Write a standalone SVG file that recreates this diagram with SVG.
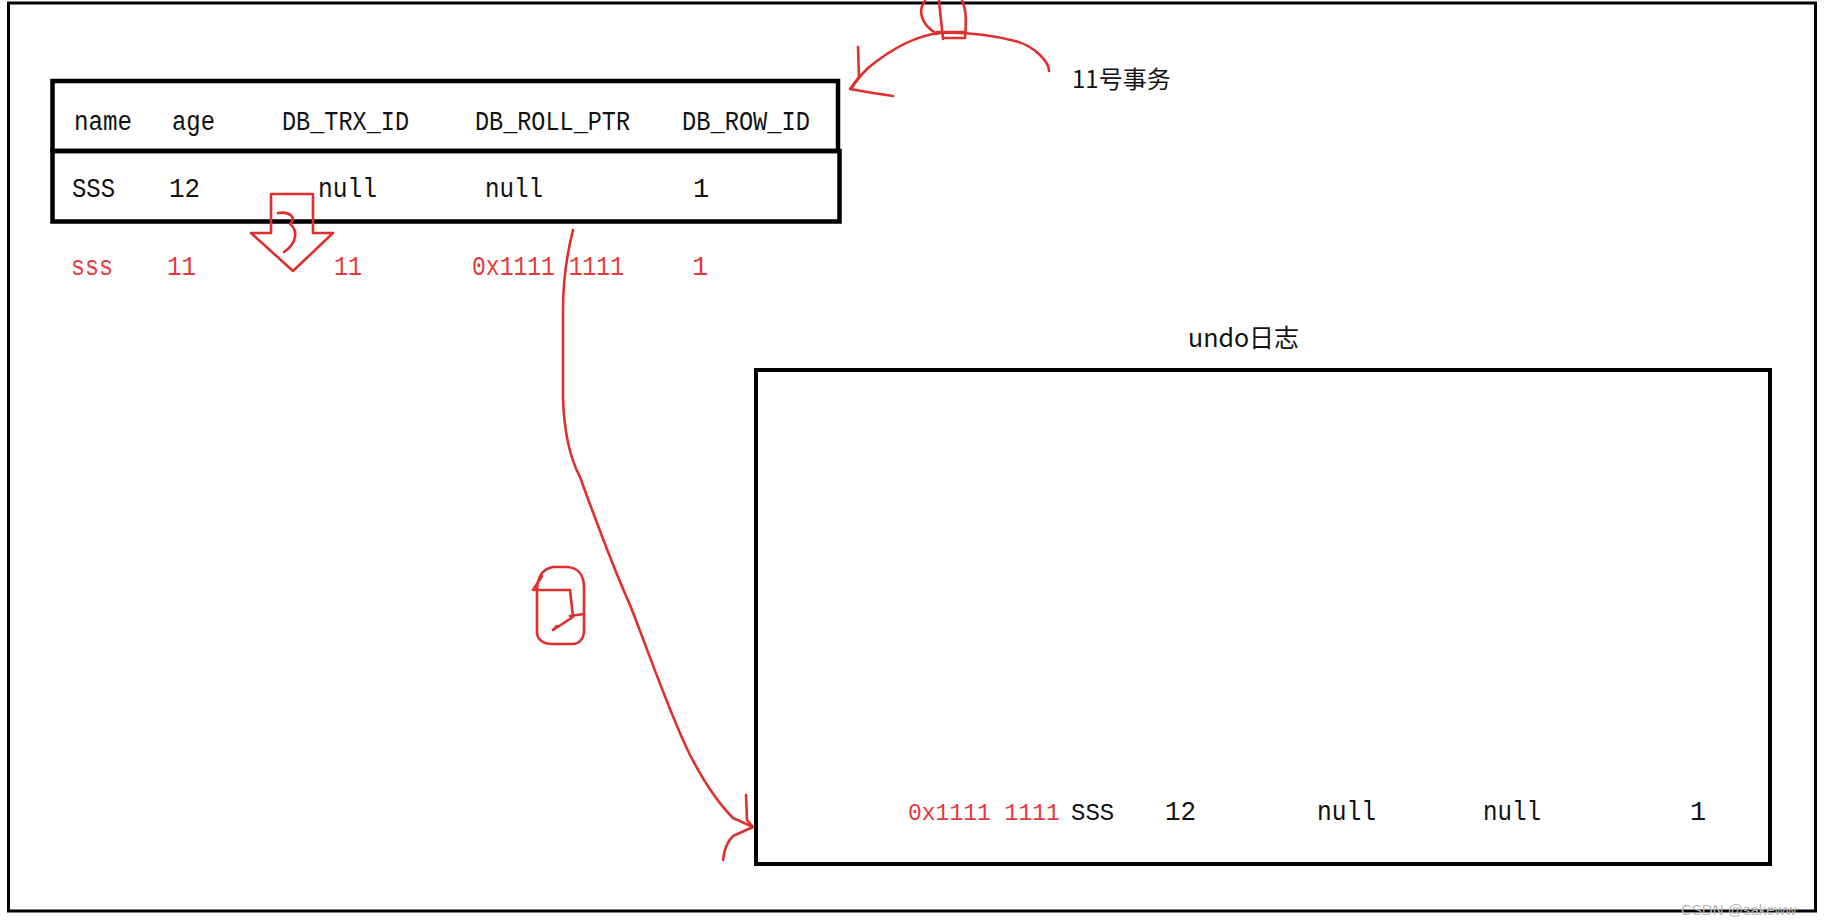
<svg xmlns="http://www.w3.org/2000/svg" width="1830" height="922" viewBox="0 0 1830 922">
<style>
.t{font-family:"Liberation Mono","Noto Sans CJK SC",monospace;font-size:27px;fill:#111}
.r{fill:#e4393a}
.c{font-family:"Noto Sans CJK SC",sans-serif;font-size:24px;fill:#111}
.box{fill:none;stroke:#000}
.ink{fill:none;stroke:#e02f2f;stroke-width:2.6;stroke-linecap:round;stroke-linejoin:round}
</style>
<rect width="1830" height="922" fill="#fff"/>
<rect id="frame" class="box" x="8.5" y="3" width="1807" height="908" stroke-width="3"/>

<g id="row-table">
<rect class="box" x="52.5" y="81" width="785.5" height="70" stroke-width="4.5"/>
<rect class="box" x="52.5" y="151" width="787" height="70.5" stroke-width="4.5"/>
<text class="t" x="74" y="129.5" textLength="58" lengthAdjust="spacingAndGlyphs">name</text>
<text class="t" x="172" y="129.5" textLength="43" lengthAdjust="spacingAndGlyphs">age</text>
<text class="t" x="282" y="129.5" textLength="127" lengthAdjust="spacingAndGlyphs">DB_TRX_ID</text>
<text class="t" x="475" y="129.5" textLength="155" lengthAdjust="spacingAndGlyphs">DB_ROLL_PTR</text>
<text class="t" x="682" y="129.5" textLength="128" lengthAdjust="spacingAndGlyphs">DB_ROW_ID</text>
<text class="t" x="72" y="197" textLength="43" lengthAdjust="spacingAndGlyphs">SSS</text>
<text class="t" x="169" y="197" textLength="31" lengthAdjust="spacingAndGlyphs">12</text>
<text class="t" x="318" y="197" textLength="59" lengthAdjust="spacingAndGlyphs">null</text>
<text class="t" x="485" y="197" textLength="58" lengthAdjust="spacingAndGlyphs">null</text>
<text class="t" x="701" y="197" text-anchor="middle">1</text>
</g>

<g id="new-row">
<text class="t r" x="71" y="275" textLength="42" lengthAdjust="spacingAndGlyphs">sss</text>
<text class="t r" x="167" y="275" textLength="29" lengthAdjust="spacingAndGlyphs">11</text>
<text class="t r" x="334" y="275" textLength="28" lengthAdjust="spacingAndGlyphs">11</text>
<text class="t r" x="472" y="275" textLength="152" lengthAdjust="spacingAndGlyphs">0x1111 1111</text>
<text class="t r" x="700" y="275" text-anchor="middle">1</text>
</g>

<g id="trx-label">
<text class="c" x="1072" y="88">11号事务</text>
</g>

<g id="undo-log">
<text class="c" x="1188" y="347" style="font-size:25px">undo日志</text>
<rect class="box" x="756" y="370" width="1014" height="494" stroke-width="4"/>
<text class="t r" x="908" y="820" style="font-size:23px">0x1111 1111</text>
<text class="t" x="1071" y="820" style="font-size:24px">SSS</text>
<text class="t" x="1165" y="820" textLength="31" lengthAdjust="spacingAndGlyphs">12</text>
<text class="t" x="1317" y="820" textLength="59" lengthAdjust="spacingAndGlyphs">null</text>
<text class="t" x="1483" y="820" textLength="58" lengthAdjust="spacingAndGlyphs">null</text>
<text class="t" x="1698" y="820" text-anchor="middle">1</text>
</g>

<g id="connectors">
<path class="ink" d="M1049,71 C1049,62 1035,46 1015,41 C995,36 967,32 940,33 C912,36 885,54 868,68 C860,76 855,82 852,88"/>
<path class="ink" d="M858,47 L859,77 L850,89 L873,93 L893,96"/>
<path class="ink" d="M925,1 C918,10 920,24 937,34 M939,1 L941,20 L943,39 M962,1 C967,10 966,25 965,38 M937,32 L965,32 M943,38 L965,38"/>
<path class="ink" d="M573,230 C568,250 563,280 563,310 L563,398 C564,430 570,458 580,477 C592,510 610,560 630,605 C648,650 668,710 690,755 C704,782 720,805 733,818 L753,827"/>
<path class="ink" d="M746,795 L747,820 L753,827 L733,836 C727,842 724,850 723,860"/>
<path class="ink" d="M553,567 C541,569 537,579 537,592 L537,632 C537,640 544,644 552,644 L572,644 C580,644 584,638 584,630 L584,588 C584,575 578,567 566,567 Z"/>
<path class="ink" d="M542,576 L533,590 L570,590 L573,617 L553,630 L557,626 M570,616 L584,614"/>
<path class="ink" d="M271,194 L313,194 L313,233 L333,233 L293,271 L251,233 L271,233 Z"/>
<path class="ink" d="M278,213 C290,211 297,218 290,224 C299,231 296,244 284,252"/>
</g>

<text x="1681" y="915" font-family="Liberation Sans,sans-serif" font-size="15" fill="#b8b8b8">CSDN @sakeww</text>
</svg>
